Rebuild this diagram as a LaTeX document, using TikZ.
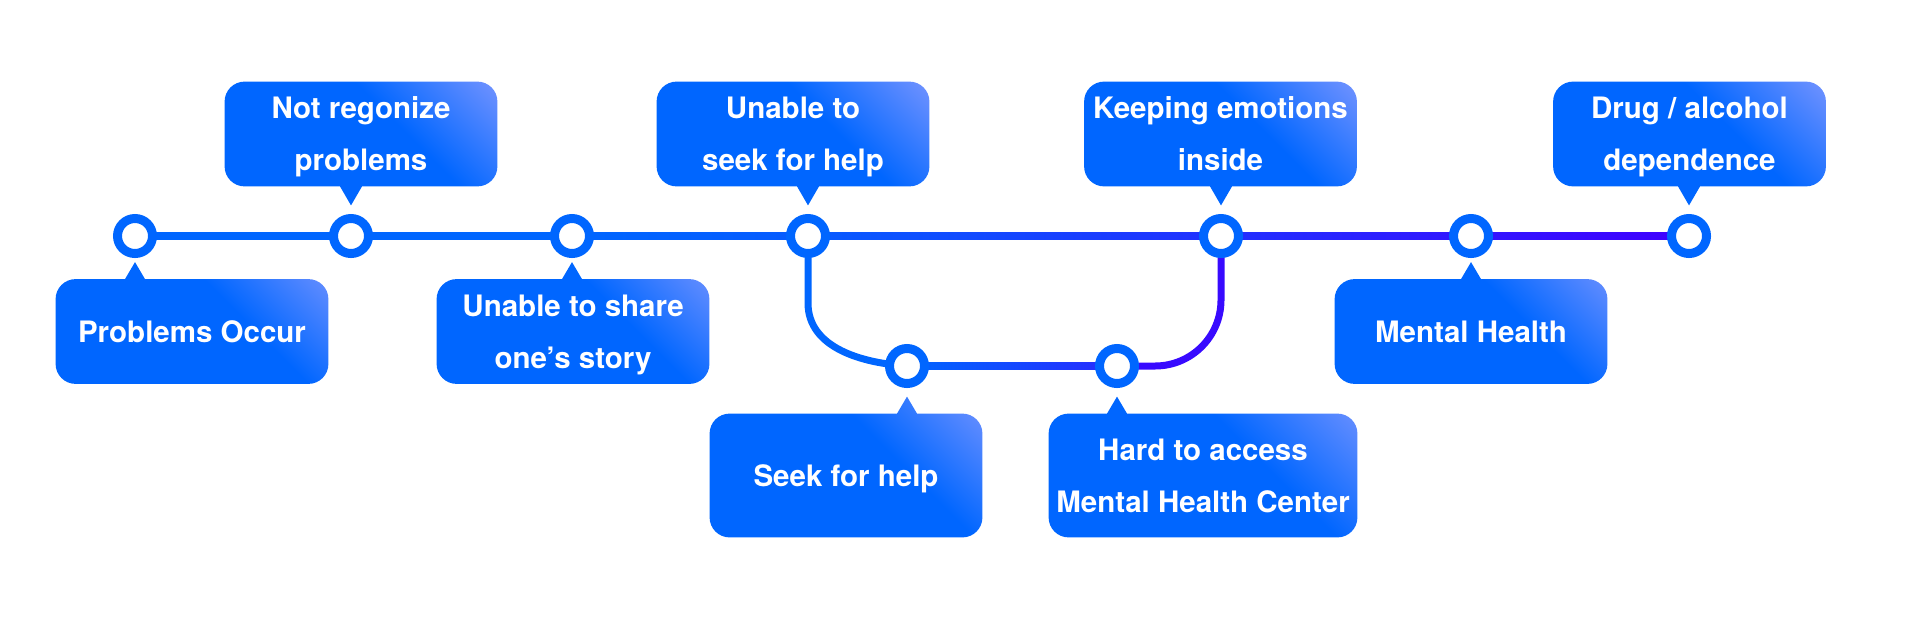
\documentclass[tikz,border=0pt]{standalone}
\usepackage{fontspec}
\setmainfont{TeX Gyre Heros}
\usetikzlibrary{calc,backgrounds}
\definecolor{bA}{RGB}{0,102,255}
\definecolor{bB}{RGB}{112,146,255}
\definecolor{lA}{RGB}{0,102,255}
\definecolor{lC4}{RGB}{7,91,255}
\definecolor{lC7}{RGB}{34,48,255}
\definecolor{lC8}{RGB}{50,22,255}
\definecolor{lC9}{RGB}{64,0,255}
\definecolor{lC6}{RGB}{40,42,255}
\definecolor{lV}{RGB}{56,10,255}
\pgfdeclarehorizontalshading{boxshade}{100bp}{color(0bp)=(bA); color(60bp)=(bA); color(85bp)=(bB); color(100bp)=(bB)}
\tikzset{
  callout/.style={inner sep=0pt, text=white, align=center,
    font=\fontsize{14.75pt}{26pt}\selectfont\bfseries, text depth=0pt,
    minimum width=136pt, minimum height=52pt},
  tall/.style={minimum height=61.5pt},
  stop/.style={circle, draw=lA, line width=4.5pt, fill=white, minimum size=17.5pt, inner sep=0pt},
  boxfill/.style={shading=boxshade, shading angle=45},
  track/.style={line width=3.5pt},
}
\begin{document}
\begin{tikzpicture}[x=0.5pt,y=-0.5pt]
\useasboundingbox (0,0) rectangle (1920,622);
% stops
\node[stop] (c1) at (135,236) {};
\node[stop] (c2) at (351,236) {};
\node[stop] (c3) at (572,236) {};
\node[stop] (c4) at (808,236) {};
\node[stop] (c5) at (907,366) {};
\node[stop] (c6) at (1117,366) {};
\node[stop] (c7) at (1221,236) {};
\node[stop] (c8) at (1471,236) {};
\node[stop] (c9) at (1689,236) {};
% callouts
\node[callout] (bOccur) at (192,331.5) {Problems Occur};
\node[callout] (bNot) at (361,134) {Not regonize\\problems};
\node[callout] (bShare) at (573,331.5) {Unable to share\\one’s story};
\node[callout] (bUnable) at (793,134) {Unable to\\seek for help};
\node[callout,tall] (bSeek) at (846,475.5) {Seek for help};
\node[callout] (bKeep) at (1220.5,134) {Keeping emotions\\inside};
\node[callout,tall,minimum width=154pt] (bHard) at (1203,475.5) {Hard to access\\Mental Health Center};
\node[callout] (bMental) at (1471,331.5) {Mental Health};
\node[callout] (bDrug) at (1689.5,134) {Drug / alcohol\\dependence};
\begin{pgfonlayer}{background}
% track
\shade[left color=lA,right color=lA] ($(c1.center)+(0,-3.5)$) rectangle ($(c3.center)+(0,3.5)$);
\shade[left color=lA,right color=lC4] ($(c3.center)+(0,-3.5)$) rectangle ($(c4.center)+(0,3.5)$);
\shade[left color=lC4,right color=lC7] ($(c4.center)+(0,-3.5)$) rectangle ($(c7.center)+(0,3.5)$);
\shade[left color=lC7,right color=lC8] ($(c7.center)+(0,-3.5)$) rectangle ($(c8.center)+(0,3.5)$);
\shade[left color=lC8,right color=lC9] ($(c8.center)+(0,-3.5)$) rectangle ($(c9.center)+(0,3.5)$);
\shade[left color=lA,right color=lC6] ($(c5.center)+(0,-3.5)$) rectangle ($(c6.center)+(0,3.5)$);
\draw[track,lA] (c4.center) -- ($(c4.center)+(0,67)$) .. controls ($(c4.center)+(0,112)$) and ($(c5.center)+(-45,-3)$) .. (c5.center);
\draw[track,lV,rounded corners=33pt] (c6.center) -| (c7.center);
% callout bodies with tips (tips pointing down)
\foreach \b/\c in {bNot/c2,bUnable/c4,bKeep/c7,bDrug/c9}{
  \shade[boxfill] (\b.south west) [rounded corners=10pt] rectangle (\b.north east)
    [sharp corners] ($(\b.south -| \c)+(-11,0)$) -- ($(\b.south -| \c)+(0,19)$) -- ($(\b.south -| \c)+(11,0)$) -- cycle;
}
% callout bodies with tips (tips pointing up)
\foreach \b/\c in {bOccur/c1,bShare/c3,bSeek/c5,bHard/c6,bMental/c8}{
  \shade[boxfill] (\b.south west) [rounded corners=10pt] rectangle (\b.north east)
    [sharp corners] ($(\b.north -| \c)+(-10,0)$) -- ($(\b.north -| \c)+(0,-17)$) -- ($(\b.north -| \c)+(10,0)$) -- cycle;
}
\end{pgfonlayer}
\end{tikzpicture}
\end{document}
